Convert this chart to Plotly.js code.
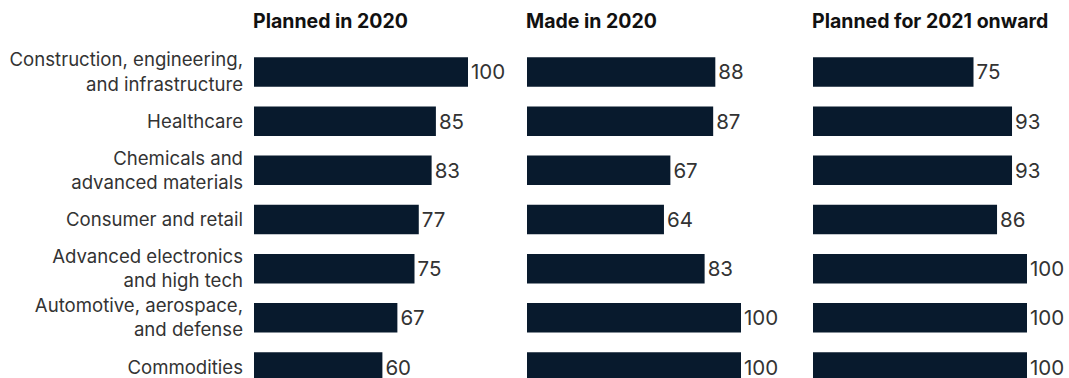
<!DOCTYPE html>
<html>
<head>
<meta charset="utf-8">
<script src="https://cdn.plot.ly/plotly-3.0.1.min.js"></script>
<style>html,body{margin:0;padding:0;background:#fff;}#chart{width:1069px;height:378px;}</style>
</head>
<body>
<div id="chart"></div>
<script>
const categories = [
  "Construction, engineering,<br>and infrastructure",
  "Healthcare",
  "Chemicals and<br>advanced materials",
  "Consumer and retail",
  "Advanced electronics<br>and high tech",
  "Automotive, aerospace,<br>and defense",
  "Commodities"
];
const plannedIn2020 = [100, 85, 83, 77, 75, 67, 60];
const madeIn2020 = [88, 87, 67, 64, 83, 100, 100];
const plannedFor2021 = [75, 93, 93, 86, 100, 100, 100];
const panelTitles = ["Planned in 2020", "Made in 2020", "Planned for 2021 onward"];

const W = 1069, H = 378;
const barColor = "#081a2d";
const fam = "Inter, Liberation Sans, Arial, sans-serif";
const labelFont = {family: fam, size: 18.6, color: "#333333"};
const valueFont = {family: fam, size: 20.5, color: "#333333"};

const series = [plannedIn2020, madeIn2020, plannedFor2021];
const axisNames = ["", "2", "3"];
const starts = [254, 527, 813];
const unit = 2.14; // px per value unit
const xmax = 118;

const traces = series.map((vals, i) => ({
  type: "bar",
  orientation: "h",
  x: vals,
  y: categories,
  xaxis: "x" + axisNames[i],
  yaxis: "y",
  width: 0.6,
  marker: {color: barColor, line: {width: 0}},
  text: vals.map(String),
  textposition: "outside",
  textfont: valueFont,
  cliponaxis: false,
  hoverinfo: "skip"
}));

const layout = {
  width: W, height: H,
  margin: {l: 0, r: 0, t: 0, b: 0, pad: 0},
  paper_bgcolor: "#ffffff",
  plot_bgcolor: "#ffffff",
  showlegend: false,
  bargap: 0.4,
  yaxis: {
    type: "category",
    categoryorder: "array",
    categoryarray: categories,
    range: [6.223, -1.464],
    showgrid: false, zeroline: false, showline: false, ticks: "",
    ticklabelstandoff: 10,
    tickfont: labelFont,
    anchor: "x",
    fixedrange: true
  },
  annotations: []
};

starts.forEach((s, i) => {
  const key = "xaxis" + axisNames[i];
  layout[key] = {
    domain: [s / W, (s + unit * xmax) / W],
    range: [0, xmax],
    visible: false,
    showgrid: false, zeroline: false, fixedrange: true,
    anchor: "y"
  };
  layout.annotations.push({
    text: "<b>" + panelTitles[i] + "</b>",
    xref: "paper", yref: "paper",
    x: (s - 3) / W, y: 1 - 21 / H,
    xanchor: "left", yanchor: "middle",
    showarrow: false,
    font: {family: fam, size: 19.5, color: "#111111"}
  });
});

Plotly.newPlot("chart", traces, layout, {displayModeBar: false, staticPlot: true});
</script>
</body>
</html>
